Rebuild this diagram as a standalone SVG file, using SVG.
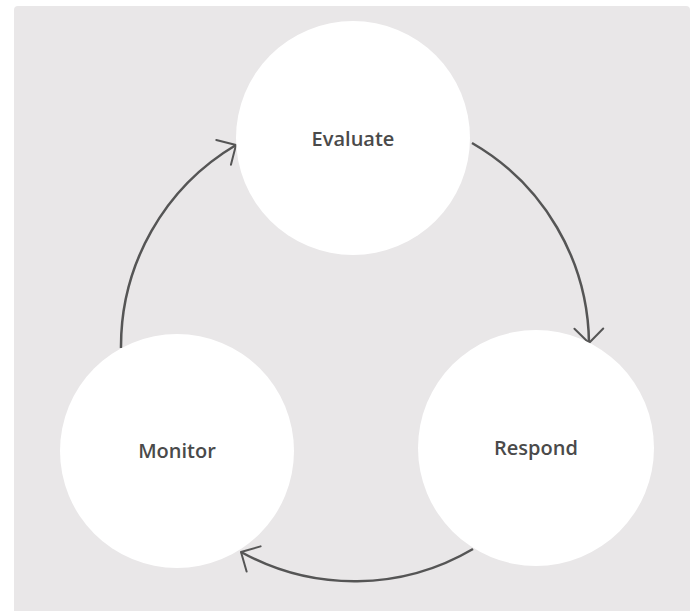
<svg xmlns="http://www.w3.org/2000/svg" width="693" height="611" viewBox="0 0 693 611">
<style>
.node{fill:#ffffff;}
.label{font-family:"Open Sans","Liberation Sans",sans-serif;font-size:20px;font-weight:600;fill:#4a4a4a;text-anchor:middle;}
.conn{fill:none;stroke:#555555;stroke-width:2.5;}
</style>
<defs>
<marker id="chev" markerUnits="userSpaceOnUse" orient="auto" refX="0" refY="0" markerWidth="40" markerHeight="40" viewBox="-25 -25 50 50" overflow="visible">
<path d="M-18,-18 L0,0 L-18,18" fill="none" stroke="#555555" stroke-width="2.5" stroke-linecap="round" stroke-linejoin="round"/>
</marker>
</defs>
<rect x="14" y="6" width="676" height="610" rx="4" fill="#e9e7e8"/>
<g id="connectors">
<path class="conn" d="M121,348 A234,234 0 0 1 236,145" marker-end="url(#chev)"/>
<path class="conn" d="M472,143 A234,234 0 0 1 589,343" marker-end="url(#chev)"/>
<path class="conn" d="M473,549 A234,234 0 0 1 241,552" marker-end="url(#chev)"/>
</g>
<g id="evaluate">
<circle class="node" cx="353" cy="138" r="117"/>
<text class="label" x="353" y="146">Evaluate</text>
</g>
<g id="monitor">
<circle class="node" cx="177" cy="451" r="117"/>
<text class="label" x="177" y="458">Monitor</text>
</g>
<g id="respond">
<circle class="node" cx="536" cy="448" r="118"/>
<text class="label" x="536" y="455">Respond</text>
</g>
</svg>
